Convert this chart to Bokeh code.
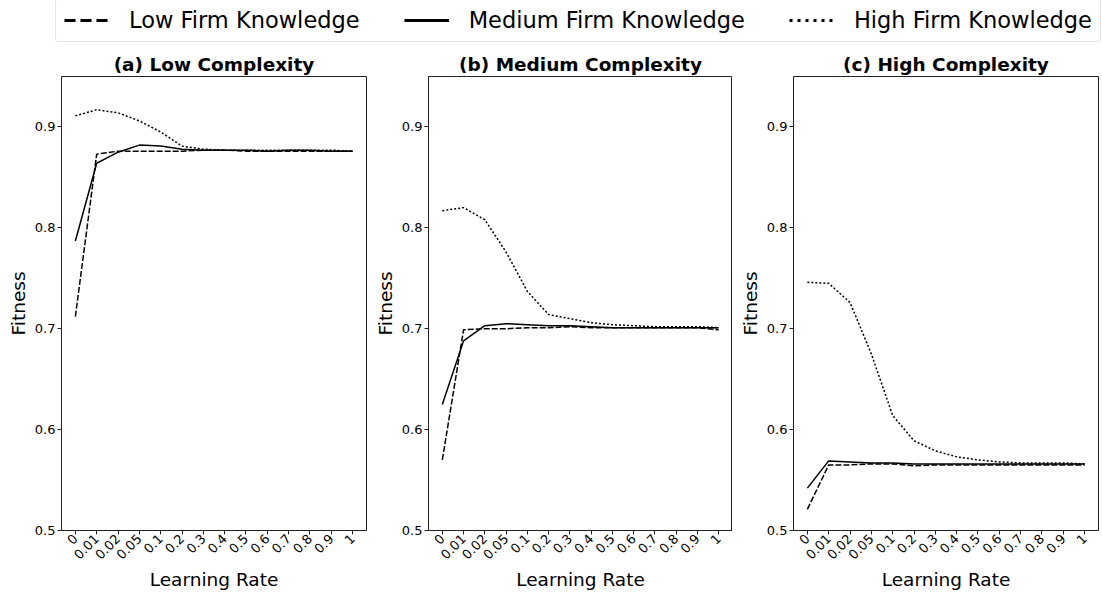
import math
from bokeh.plotting import figure
from bokeh.models import Range1d, FixedTicker, Legend, LegendItem
from bokeh.layouts import column, row
from bokeh.embed import file_html
from bokeh.resources import INLINE

FONT = "DejaVu Sans"

rates = ["0", "0.01", "0.02", "0.05", "0.1", "0.2", "0.3", "0.4", "0.5", "0.6", "0.7", "0.8", "0.9", "1"]

low_a = [0.712, 0.873, 0.876, 0.876, 0.876, 0.876, 0.877, 0.877, 0.876, 0.876, 0.876, 0.876, 0.876, 0.876]
med_a = [0.787, 0.864, 0.875, 0.882, 0.881, 0.878, 0.877, 0.877, 0.877, 0.876, 0.877, 0.877, 0.876, 0.876]
high_a = [0.911, 0.917, 0.914, 0.906, 0.895, 0.881, 0.878, 0.877, 0.877, 0.877, 0.877, 0.877, 0.877, 0.876]

low_b = [0.570, 0.699, 0.700, 0.700, 0.701, 0.701, 0.702, 0.701, 0.701, 0.701, 0.701, 0.701, 0.701, 0.699]
med_b = [0.625, 0.688, 0.703, 0.705, 0.704, 0.703, 0.703, 0.702, 0.701, 0.701, 0.701, 0.701, 0.701, 0.701]
high_b = [0.817, 0.820, 0.808, 0.776, 0.737, 0.714, 0.710, 0.706, 0.704, 0.703, 0.702, 0.702, 0.702, 0.701]

low_c = [0.521, 0.565, 0.565, 0.566, 0.566, 0.564, 0.565, 0.565, 0.565, 0.565, 0.565, 0.565, 0.565, 0.565]
med_c = [0.542, 0.569, 0.568, 0.567, 0.567, 0.566, 0.566, 0.566, 0.566, 0.566, 0.566, 0.566, 0.566, 0.566]
high_c = [0.746, 0.745, 0.726, 0.675, 0.614, 0.589, 0.579, 0.573, 0.570, 0.568, 0.567, 0.567, 0.567, 0.566]

titles = ["(a) Low Complexity", "(b) Medium Complexity", "(c) High Complexity"]
series_names = ["Low Firm Knowledge", "Medium Firm Knowledge", "High Firm Knowledge"]
y_ticks = [0.5, 0.6, 0.7, 0.8, 0.9]

xs = list(range(len(rates)))

FRAME_H = 454
TOP_B = 34
BOT_B = 62
LEFT_B = 61


def make_panel(title, low, med, high, frame_w, right_b):
    p = figure(frame_width=frame_w, frame_height=FRAME_H,
               output_backend="svg", toolbar_location=None,
               x_range=Range1d(-0.65, len(rates) - 1 + 0.65), y_range=Range1d(0.5, 0.95),
               min_border_left=LEFT_B, min_border_right=right_b,
               min_border_top=TOP_B, min_border_bottom=BOT_B)
    p.line(xs, low, line_color="black", line_width=1.5, line_dash="6 2")
    p.line(xs, med, line_color="black", line_width=1.5)
    p.line(xs, high, line_color="black", line_width=1.5, line_dash="2 2")

    p.title.text = title
    p.title.align = "center"
    p.title.text_font = FONT
    p.title.text_font_size = "18.5px"
    p.title.text_font_style = "bold"
    p.title.text_color = "black"
    p.title.standoff = 4

    p.xgrid.visible = False
    p.ygrid.visible = False
    p.outline_line_color = "#222222"
    p.outline_line_width = 1
    p.background_fill_color = "white"

    p.xaxis.ticker = FixedTicker(ticks=xs)
    p.xaxis.major_label_overrides = {i: lab for i, lab in enumerate(rates)}
    p.xaxis.major_label_orientation = math.pi / 4
    p.xaxis.axis_label = "Learning Rate"

    p.yaxis.ticker = FixedTicker(ticks=y_ticks)
    p.yaxis.axis_label = "Fitness"

    for ax in (p.xaxis[0], p.yaxis[0]):
        ax.axis_line_color = "#222222"
        ax.major_tick_line_color = "#222222"
        ax.minor_tick_line_color = None
        ax.major_tick_in = 0
        ax.major_tick_out = 4
        ax.major_label_text_font = FONT
        ax.major_label_text_font_size = "13px"
        ax.major_label_text_color = "black"
        ax.major_label_standoff = 2
        ax.axis_label_text_font = FONT
        ax.axis_label_text_font_size = "18.5px"
        ax.axis_label_text_font_style = "normal"
        ax.axis_label_text_color = "black"
        ax.axis_label_standoff = 3
    return p


p1 = make_panel(titles[0], low_a, med_a, high_a, 305, 1)
p2 = make_panel(titles[1], low_b, med_b, high_b, 304, 0)
p3 = make_panel(titles[2], low_c, med_c, high_c, 305, 4)

# legend strip (sample lines reuse series data but sit outside the visible range)
leg = figure(width=1102, height=42, output_backend="svg", toolbar_location=None,
             x_range=Range1d(-200, -199), y_range=Range1d(-200, -199),
             min_border=0, min_border_left=0, min_border_right=0,
             min_border_top=0, min_border_bottom=0)
leg.axis.visible = False
leg.grid.visible = False
leg.outline_line_color = None
r1 = leg.line(xs, low_a, line_color="black", line_width=3, line_dash="11 5")
r2 = leg.line(xs, med_a, line_color="black", line_width=3)
r3 = leg.line(xs, high_a, line_color="black", line_width=3, line_dash="3 5")
legend = Legend(items=[LegendItem(label=series_names[0], renderers=[r1]),
                       LegendItem(label=series_names[1], renderers=[r2]),
                       LegendItem(label=series_names[2], renderers=[r3])],
                orientation="horizontal", location=(55, 0), margin=0, padding=8,
                spacing=44, glyph_width=45, glyph_height=22, label_standoff=20,
                label_text_font=FONT, label_text_font_size="22.5px", label_text_color="black",
                border_line_color="#cccccc", border_line_width=1, border_radius=4,
                background_fill_color="white", background_fill_alpha=1.0)
leg.add_layout(legend, "center")

layout = column(leg, row(p1, p2, p3))
open("out.html", "w").write(file_html(layout, INLINE))
